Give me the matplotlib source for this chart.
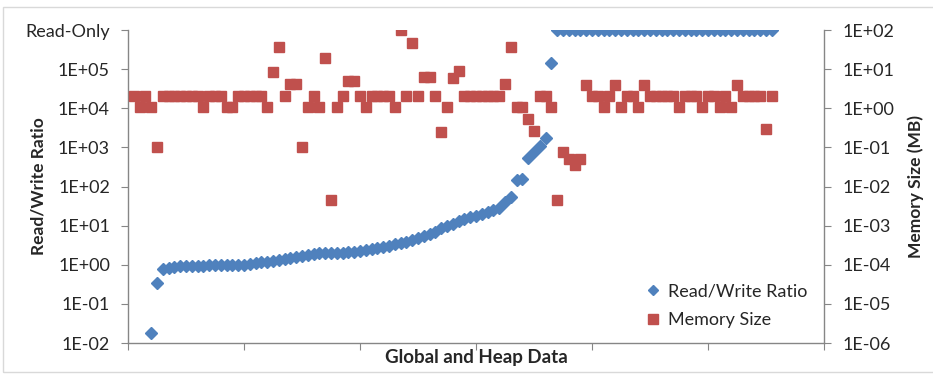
import matplotlib
matplotlib.use("Agg")
import matplotlib.pyplot as plt
import matplotlib.patches as mpatches
import numpy as np

# data (x = position of each data object on the category axis)
RO = 1e6  # "Read-Only" is drawn at the top of the ratio axis

ratio = [
    np.nan, np.nan, np.nan, 0.018, 0.35, 0.8,
    0.85, 0.9, 0.92, 0.93, 0.94, 0.95,
    0.95, 0.96, 0.96, 0.97, 0.97, 0.98,
    0.99, 1.0, 1.05, 1.1, 1.15, 1.2,
    1.25, 1.3, 1.4, 1.5, 1.6, 1.7,
    1.8, 1.9, 1.95, 2.0, 2.0, 2.0,
    2.05, 2.1, 2.1, 2.2, 2.4, 2.6,
    2.7, 2.9, 3.1, 3.3, 3.6, 3.9,
    4.2, 4.8, 5.5, 6.0, 7.0, 8.5,
    9.5, 11, 13, 15, 17, 18,
    20, 22, 25, 28, 40, 55,
    150, 160, 550, 750, 1100, 1700,
    1.4e5, RO, RO, RO, RO, RO,
    RO, RO, RO, RO, RO, RO,
    RO, RO, RO, RO, RO, RO,
    RO, RO, RO, RO, RO, RO,
    RO, RO, RO, RO, RO, RO,
    RO, RO, RO, RO, RO, RO,
    RO, RO, RO,
]

mem_mb = [
    2.0, 1.1, 2.0, 1.1, 0.1,
    2.0, 2.0, 2.0, 2.0, 2.0, 2.0, 2.0,
    1.1, 2.0, 2.0, 2.0, 1.1, 1.1,
    2.0, 2.0, 2.0, 2.0, 2.0, 1.1,
    8.5, 37, 2.0, 4.2, 4.2, 0.1,
    1.1, 2.0, 1.1, 19, 0.0045, 1.1,
    2.0, 5.0, 5.0, 2.0, 1.1, 2.0,
    2.0, 2.0, 2.0, 1.1, 100, 2.0,
    46, 2.0, 6.3, 6.3, 2.0, 0.25,
    1.1, 6.0, 9.0, 2.0, 2.0, 2.0,
    2.0, 2.0, 2.0, 2.0, 4.2, 37,
    1.1, 1.1, 0.52, 0.26, 2.0, 2.0,
    1.1, 0.0045, 0.076, 0.05, 0.035, 0.05,
    4.0, 2.0, 2.0, 1.1, 2.0, 4.0,
    1.1, 2.0, 2.0, 1.1, 4.0, 2.0,
    2.0, 2.0, 2.0, 2.0, 1.1, 2.0,
    2.0, 2.0, 1.1, 2.0, 2.0, 1.1,
    2.0, 1.1, 4.0, 2.0, 2.0, 2.0,
    2.0, 0.3, 2.0,
]

left_ticks = [1e-2, 1e-1, 1e0, 1e1, 1e2, 1e3, 1e4, 1e5, 1e6]
left_labels = ["1E-02", "1E-01", "1E+00", "1E+01", "1E+02", "1E+03", "1E+04", "1E+05", "Read-Only"]
right_ticks = [1e-6, 1e-5, 1e-4, 1e-3, 1e-2, 1e-1, 1e0, 1e1, 1e2]
right_labels = ["1E-06", "1E-05", "1E-04", "1E-03", "1E-02", "1E-01", "1E+00", "1E+01", "1E+02"]

BLUE = "#4F81BD"
RED = "#C0504D"
AXC = "#868686"
TXT = "#262626"

plt.rcParams["font.family"] = ["Lato", "DejaVu Sans"]

x = np.arange(1, len(ratio) + 1)

fig = plt.figure(figsize=(9.33, 3.76), dpi=100)
H = 343 - 30
ax = fig.add_axes([128 / 933, 1 - 343 / 376, (824 - 128) / 933, H / 376])
ax2 = ax.twinx()

fig.patches.append(mpatches.Rectangle((3 / 933, 4 / 376), 1.0, 1 - 11 / 376,
                                      transform=fig.transFigure, fill=False,
                                      edgecolor="#D9D9D9", lw=1.0))

ax.plot(x, ratio, ls="none", marker="D", ms=6.2, color=BLUE, mec=BLUE,
        label="Read/Write Ratio")
ax2.plot(x, mem_mb, ls="none", marker="s", ms=7.8, color=RED, mec=RED,
         label="Memory Size")

for a, ticks, labels, lims in ((ax, left_ticks, left_labels, (1e-2, 1e6)),
                               (ax2, right_ticks, right_labels, (1e-6, 1e2))):
    a.set_yscale("log")
    a.set_ylim(*lims)
    a.set_yticks(ticks)
    a.set_yticklabels(labels)
    a.minorticks_off()
    a.tick_params(axis="y", length=5, color=AXC, labelsize=13, labelcolor=TXT, pad=8)
    for s in a.spines.values():
        s.set_visible(False)

ax.set_xlim(0, 120)
ax.set_xticks([0, 20, 40, 60, 80, 100, 120])
ax.set_xticklabels([])
ax.tick_params(axis="x", length=5, color=AXC, direction="out")
ax.spines["left"].set_visible(True)
ax.spines["bottom"].set_visible(True)
ax2.spines["right"].set_visible(True)
for s in (ax.spines["left"], ax.spines["bottom"], ax2.spines["right"]):
    s.set_color(AXC)
    s.set_linewidth(1.0)

ax.set_ylabel("Read/Write Ratio", fontsize=12.5, fontweight="bold", color=TXT, va="center")
ax.yaxis.set_label_coords((39 - 128) / 696, 0.5)
ax2.set_ylabel("Memory Size (MB)", fontsize=12.5, fontweight="bold", color=TXT, va="center",
               rotation=90)
ax2.yaxis.set_label_coords((916 - 128) / 696, 0.5)
ax.set_xlabel("Global and Heap Data", fontsize=13.5, fontweight="bold", color=TXT, va="center")
ax.xaxis.set_label_coords(0.5, -(357 - 343) / H)

h1, l1 = ax.get_legend_handles_labels()
h2, l2 = ax2.get_legend_handles_labels()
ax2.legend(h1 + h2, l1 + l2, loc="lower right", bbox_to_anchor=(1.0, -0.005),
           frameon=False, fontsize=13, handlelength=0.8, handletextpad=0.45,
           labelspacing=0.7, markerscale=0.85, labelcolor=TXT)

fig.savefig("out.png", dpi=100)
